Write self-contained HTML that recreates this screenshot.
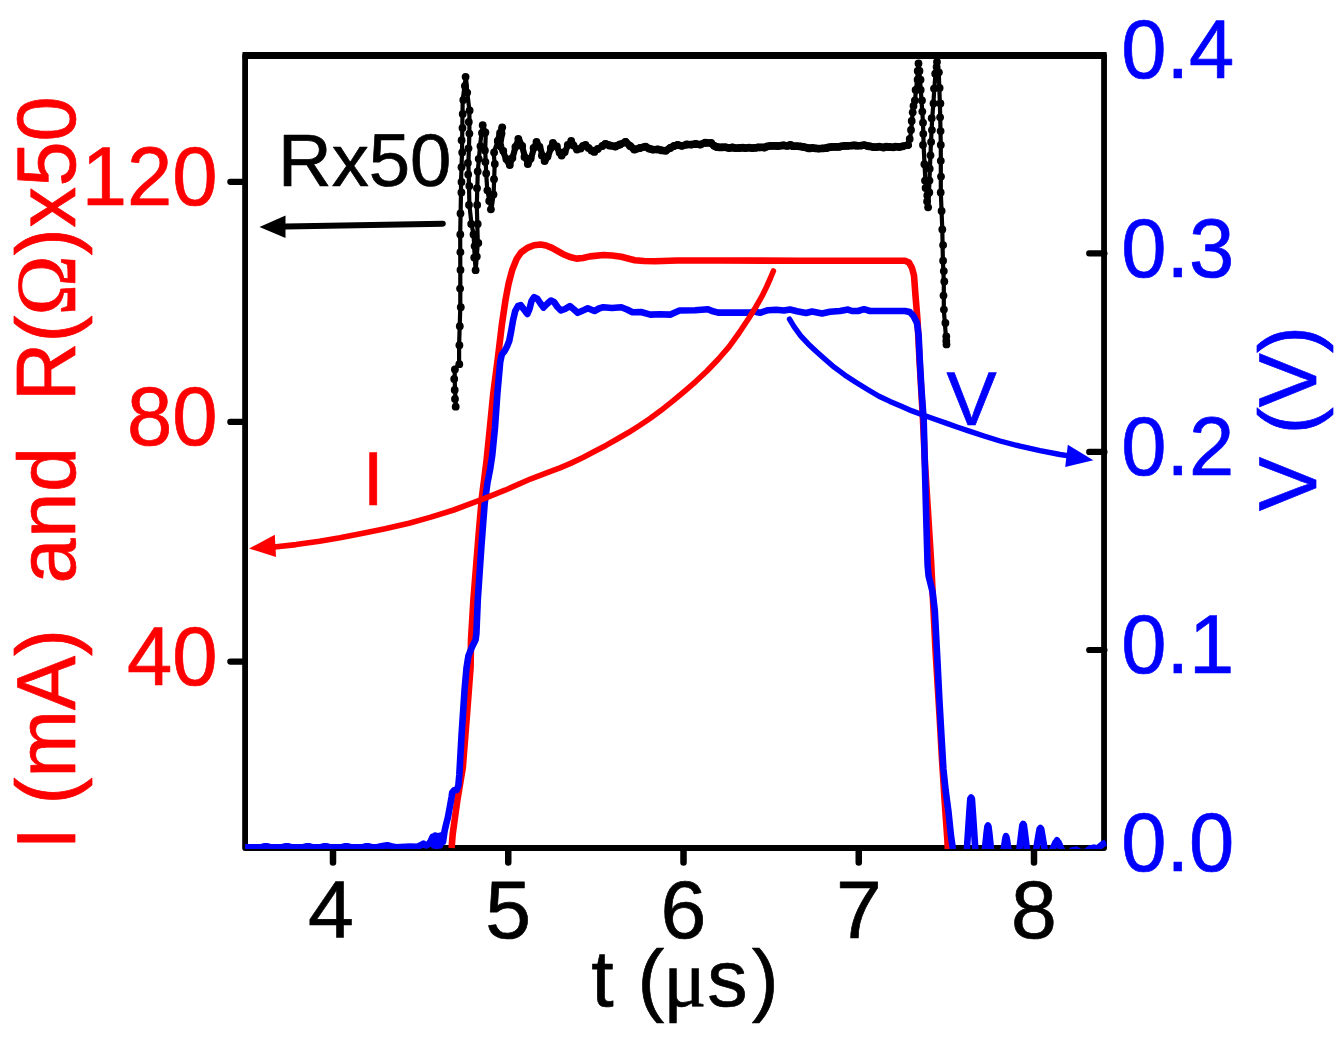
<!DOCTYPE html>
<html lang="en"><head><meta charset="utf-8"><title>Pulse I-V-R plot</title>
<style>html,body{margin:0;padding:0;background:#fff}svg{display:block}text{font-family:"Liberation Sans",sans-serif;stroke-width:0.7px;stroke-linejoin:round}.sy{font-family:"Liberation Serif",serif}</style></head><body>
<svg width="1344" height="1046" viewBox="0 0 1344 1046">
<rect x="0" y="0" width="1344" height="1046" fill="#fff"/>
<rect x="245.1" y="55.6" width="858.95" height="792.40" fill="none" stroke="#000000" stroke-width="5.8" stroke-linejoin="round"/>
<line x1="242.50" y1="55.55" x2="1106.65" y2="55.55" stroke="#000000" stroke-width="6.9"/>
<path d="M333.00 848.5 V862.6 M508.25 848.5 V862.6 M683.50 848.5 V862.6 M858.75 848.5 V862.6 M1034.00 848.5 V862.6" fill="none" stroke="#000000" stroke-width="6.5" stroke-linecap="round"/>
<path d="M244.70 181.8 H230.3 M244.70 421.9 H230.3 M244.70 661.6 H230.3 M1104.45 253.4 H1089.2 M1104.45 451.9 H1089.2 M1104.45 650.0 H1089.2" fill="none" stroke="#000000" stroke-width="6.2" stroke-linecap="round"/>
<defs><clipPath id="pc"><rect x="245.1" y="55.6" width="861.45" height="793.50"/></clipPath></defs>
<g clip-path="url(#pc)">
<polyline points="451.6,848.0 452.7,834.0 457.2,801.3 462.8,767.8 467.2,711.9 470.6,667.0 471.0,640.0 473.4,600.0 479.0,530.0 482.0,496.3 486.4,462.0 489.9,427.5 493.3,393.2 497.8,358.8 501.9,324.4 505.5,300.0 508.6,283.7 512.2,270.0 516.6,259.0 521.0,252.5 527.4,247.9 534.0,245.3 540.8,244.5 546.0,245.5 552.0,247.9 563.2,254.2 570.0,257.0 576.6,258.6 583.0,258.0 590.0,256.4 603.4,255.0 612.0,255.5 621.3,256.8 634.8,260.2 644.0,261.0 654.9,261.3 677.3,260.5 720.0,260.5 800.0,260.8 905.0,260.8 909.0,262.5 912.0,268.0 914.0,275.5 915.6,297.0 917.5,320.0 919.5,360.0 923.0,420.0 925.0,464.0 931.0,560.0 935.5,650.0 939.8,720.0 941.8,756.0 944.6,800.0 947.4,840.0 948.0,852.0" fill="none" stroke="#ff0000" stroke-width="6.6" stroke-linejoin="round" stroke-linecap="butt"/>
<polyline points="243.0,847.4 250.0,847.4 253.5,847.4 257.0,847.4 260.5,847.4 264.0,846.3 267.5,846.3 271.0,847.4 274.5,847.4 278.0,847.4 281.5,847.4 285.0,846.3 288.5,846.3 292.0,847.4 295.5,847.4 299.0,847.4 302.5,847.4 306.0,846.3 309.5,846.3 313.0,847.4 316.5,847.4 320.0,847.4 323.5,846.3 327.0,846.3 330.5,847.4 334.0,847.4 337.5,847.4 341.0,847.4 344.5,846.3 348.0,846.3 351.5,847.4 355.0,847.4 358.5,847.4 362.0,847.4 365.5,846.3 369.0,846.3 372.5,847.4 376.0,847.4 380.0,846.6 384.0,845.8 387.3,845.2 391.0,846.2 396.0,847.2 410.0,846.6 417.0,846.8 420.0,845.6 423.5,843.6 426.0,845.4 428.5,844.2 430.5,841.5 432.5,837.0 434.0,845.5 435.3,835.6 437.0,846.0 438.6,836.0 440.0,845.5 441.6,835.4 443.0,842.0 444.6,831.0 446.2,824.0 447.8,817.9 450.0,806.0 451.6,797.0 452.2,792.5 454.0,790.3 456.5,790.3 458.3,786.0 459.3,775.0 461.6,734.2 464.6,689.5 466.5,668.0 468.4,655.9 472.0,647.0 475.5,640.0 476.4,633.6 477.8,599.5 481.3,547.9 484.7,503.2 487.5,482.6 490.2,468.8 492.3,455.0 495.0,427.5 497.4,393.2 500.2,362.0 501.8,354.5 504.5,351.2 507.0,346.5 509.2,341.0 511.2,331.0 513.0,320.5 515.2,311.0 518.0,306.0 520.8,305.2 524.0,309.5 527.4,313.9 529.5,309.0 531.5,301.0 534.1,297.1 537.5,299.0 540.5,303.5 543.5,307.5 547.0,304.0 550.9,300.5 554.0,302.0 557.5,307.0 560.9,310.5 565.0,309.0 569.9,306.1 574.0,309.5 577.7,312.8 583.0,310.5 587.8,308.3 594.5,311.0 599.0,308.5 603.4,307.2 612.0,308.0 621.3,307.2 627.0,309.5 632.5,312.3 641.0,312.0 650.4,314.6 660.0,314.2 670.6,314.6 675.0,312.5 679.5,310.5 695.0,310.2 708.0,309.2 712.0,311.0 718.0,312.6 730.0,312.6 750.0,312.6 754.0,311.5 760.0,312.8 768.0,310.2 776.0,309.8 784.0,310.5 790.0,309.5 797.0,311.2 806.0,313.0 812.0,311.5 822.0,313.4 830.0,311.8 840.0,311.0 848.0,309.6 852.0,311.0 858.0,311.0 864.0,309.2 870.0,311.0 885.0,311.0 905.0,311.0 909.7,312.0 913.5,316.0 917.0,323.0 918.6,335.0 919.8,360.0 921.5,390.0 923.7,420.0 924.8,464.0 926.3,520.0 927.6,565.0 928.6,576.0 932.6,592.0 934.8,610.7 937.4,660.0 939.5,702.0 941.7,740.0 943.4,769.0 945.6,790.0 948.5,812.0 951.0,836.0 952.6,847.0 953.8,858.0 966.1,858.0 967.0,847.4 969.2,814.5 970.3,798.8 971.1,797.6 971.9,798.8 973.0,814.5 975.2,847.4 976.1,858.0 983.7,858.0 985.1,847.4 986.6,832.9 987.4,826.7 988.0,825.5 988.5,826.7 989.3,832.9 990.8,847.4 992.2,858.0 1002.1,858.0 1004.0,847.4 1005.1,840.0 1005.6,837.4 1006.0,836.2 1006.5,837.4 1007.0,840.0 1008.1,847.4 1010.0,858.0 1018.0,858.0 1019.6,847.4 1021.5,831.9 1022.4,825.1 1023.1,823.9 1023.9,825.1 1024.8,831.9 1026.7,847.4 1028.3,858.0 1034.4,858.0 1036.5,847.4 1038.6,834.6 1039.6,829.2 1040.4,828.0 1041.2,829.2 1042.2,834.6 1044.3,847.4 1046.4,858.0 1047.8,858.0 1053.3,847.4 1055.3,842.7 1056.3,841.5 1057.0,840.3 1057.7,841.5 1058.7,842.7 1060.7,847.4 1066.2,858.0 1068.0,858.0 1072.0,850.5 1076.0,849.6 1080.0,852.0 1086.0,852.0 1090.0,848.5 1094.0,847.6 1097.0,848.6 1100.0,846.4 1102.5,844.3 1106.0,842.5" fill="none" stroke="#0000ff" stroke-width="6.6" stroke-linejoin="round" stroke-linecap="butt"/>
<g fill="#000000" stroke="#000000">
<polyline points="455.8,406.7 455.5,399.0 455.0,390.0 454.7,379.0 454.7,369.5 459.1,364.2 459.1,345.2 460.3,307.2 460.3,270.0 460.2,234.5 461.0,192.4 461.0,182.0 462.0,152.5 462.3,128.0 462.7,100.0 464.5,86.0 465.9,76.8 467.3,92.6 469.4,110.5 469.4,133.6 468.4,163.0 469.0,186.0 469.4,205.0 471.5,224.0 473.6,234.5 474.7,257.6 475.7,270.2 477.8,243.0 476.8,205.0 477.8,171.4 480.0,146.2 481.5,133.0 483.1,125.2 485.8,132.5 485.2,150.4 486.2,173.5 487.3,190.3 489.5,201.0 491.5,209.3 493.6,194.5 494.7,164.0 493.6,152.5 497.8,141.0 500.0,133.0 502.0,127.3 502.0,133.6 499.9,146.2 503.0,151.0 506.0,159.0 509.4,165.0 512.5,158.0 515.5,147.0 518.8,138.8 522.0,146.0 525.0,157.0 528.3,164.0 531.0,158.5 534.0,148.0 536.7,142.0 540.0,147.0 542.5,155.5 545.0,161.0 548.0,156.5 551.0,148.0 553.5,143.0 556.5,146.5 559.5,152.5 562.0,155.6 565.0,152.0 568.0,145.0 571.4,141.0 574.0,145.5 576.6,149.6 580.0,148.5 583.0,146.0 585.5,145.0 589.0,148.0 592.0,150.5 594.5,151.9 598.0,149.0 602.0,146.0 605.7,144.0 610.0,145.5 615.0,146.5 620.0,144.5 625.8,141.8 630.0,146.0 634.8,149.6 640.0,148.0 645.0,146.6 649.0,148.6 652.7,149.6 658.0,149.4 662.0,150.4 666.0,150.7 670.0,148.0 674.0,146.0 677.3,145.0 682.0,145.8 687.0,144.5 691.0,144.6 695.2,144.0 700.0,144.6 705.0,142.7 710.8,143.0 714.0,145.8 717.0,147.0 720.0,147.4 723.0,147.3 726.2,147.3 729.4,148.0 732.6,147.5 735.8,148.1 739.0,148.0 742.2,147.7 745.4,148.1 748.6,147.7 751.8,148.1 755.0,147.8 758.2,147.4 761.4,147.4 764.6,147.5 767.8,146.3 771.0,145.9 774.2,145.8 777.4,146.0 780.6,145.6 783.8,145.3 787.0,145.9 790.2,144.9 793.4,146.2 796.6,146.1 799.8,146.4 803.0,146.9 806.2,147.6 809.4,148.4 812.6,147.9 815.8,148.4 819.0,148.6 822.2,148.4 825.4,148.2 828.6,147.4 831.8,147.0 835.0,146.8 838.2,146.9 841.4,146.3 844.6,145.8 847.8,145.9 851.0,145.6 854.2,145.3 857.4,145.7 860.6,145.6 863.8,145.1 867.0,145.8 870.2,146.4 873.4,147.1 876.6,147.1 879.8,146.7 883.0,147.5 886.2,146.7 889.4,147.0 892.6,147.3 895.8,146.6 899.0,147.0 902.2,146.3 908.2,145.0 910.0,139.0 911.2,130.0 912.0,121.0 912.6,112.3 913.8,106.0 915.0,100.4 916.0,90.0 917.1,79.7 917.9,71.0 918.6,63.4 919.4,71.0 920.0,79.7 920.8,90.0 921.5,100.4 923.0,122.7 923.6,145.0 924.5,164.2 925.4,180.6 926.2,188.0 926.9,195.4 927.5,201.5 928.1,207.3 929.0,192.4 929.9,168.7 931.0,142.0 932.2,118.2 933.4,103.4 934.3,88.6 935.5,73.7 936.3,67.0 937.0,61.9 938.8,72.3 939.3,88.0 939.9,103.4 940.8,145.0 940.8,192.4 942.3,229.5 942.9,260.7 943.8,281.5 943.8,309.6 945.9,336.4 946.7,341.0 947.0,344.4" fill="none" stroke-width="4.2" stroke-linejoin="round" stroke-linecap="round"/>
<polyline points="497.8,141.0 500.0,133.0 502.0,127.3 502.0,133.6 499.9,146.2 503.0,151.0 506.0,159.0 509.4,165.0 512.5,158.0 515.5,147.0 518.8,138.8 522.0,146.0 525.0,157.0 528.3,164.0 531.0,158.5 534.0,148.0 536.7,142.0 540.0,147.0 542.5,155.5 545.0,161.0 548.0,156.5 551.0,148.0 553.5,143.0 556.5,146.5 559.5,152.5 562.0,155.6 565.0,152.0 568.0,145.0 571.4,141.0 574.0,145.5 576.6,149.6 580.0,148.5 583.0,146.0 585.5,145.0 589.0,148.0 592.0,150.5 594.5,151.9 598.0,149.0 602.0,146.0 605.7,144.0 610.0,145.5 615.0,146.5 620.0,144.5 625.8,141.8 630.0,146.0 634.8,149.6 640.0,148.0 645.0,146.6 649.0,148.6 652.7,149.6 658.0,149.4 662.0,150.4 666.0,150.7 670.0,148.0 674.0,146.0 677.3,145.0 682.0,145.8 687.0,144.5 691.0,144.6 695.2,144.0 700.0,144.6 705.0,142.7 710.8,143.0 714.0,145.8 717.0,147.0 720.0,147.4" fill="none" stroke-width="6.2" stroke-linejoin="round" stroke-linecap="round"/>
<polyline points="606.0,144.0 610.0,145.5 615.0,146.5 620.0,144.5 625.8,141.8 630.0,146.0 634.8,149.6 640.0,148.0 645.0,146.6 649.0,148.6 652.7,149.6 658.0,149.4 662.0,150.4 666.0,150.7 670.0,148.0 674.0,146.0 677.3,145.0 682.0,145.8 687.0,144.5 691.0,144.6 695.2,144.0 700.0,144.6 705.0,142.7 710.8,143.0 714.0,145.8 717.0,147.0 720.0,147.4 723.0,147.3 726.2,147.3 729.4,148.0 732.6,147.5 735.8,148.1 739.0,148.0 742.2,147.7 745.4,148.1 748.6,147.7 751.8,148.1 755.0,147.8 758.2,147.4 761.4,147.4 764.6,147.5 767.8,146.3 771.0,145.9 774.2,145.8 777.4,146.0 780.6,145.6 783.8,145.3 787.0,145.9 790.2,144.9 793.4,146.2 796.6,146.1 799.8,146.4 803.0,146.9 806.2,147.6 809.4,148.4 812.6,147.9 815.8,148.4 819.0,148.6 822.2,148.4 825.4,148.2 828.6,147.4 831.8,147.0 835.0,146.8 838.2,146.9 841.4,146.3 844.6,145.8 847.8,145.9 851.0,145.6 854.2,145.3 857.4,145.7 860.6,145.6 863.8,145.1 867.0,145.8 870.2,146.4 873.4,147.1 876.6,147.1 879.8,146.7 883.0,147.5 886.2,146.7 889.4,147.0 892.6,147.3 895.8,146.6 899.0,147.0 902.2,146.3 908.2,145.0" fill="none" stroke-width="7.4" stroke-linejoin="round" stroke-linecap="round"/>
<g stroke="none"><circle cx="459.3" cy="364.2" r="3.9"/><circle cx="459.4" cy="345.2" r="3.9"/><circle cx="459.8" cy="326.2" r="3.9"/><circle cx="460.8" cy="307.2" r="3.9"/><circle cx="460.1" cy="288.6" r="3.9"/><circle cx="460.5" cy="270.0" r="3.9"/><circle cx="460.4" cy="252.2" r="3.9"/><circle cx="460.3" cy="234.5" r="3.9"/><circle cx="460.5" cy="213.4" r="3.9"/><circle cx="461.4" cy="192.4" r="3.9"/><circle cx="461.5" cy="182.0" r="3.9"/><circle cx="461.5" cy="167.2" r="3.9"/><circle cx="462.2" cy="152.5" r="3.9"/><circle cx="461.6" cy="140.2" r="3.9"/><circle cx="462.5" cy="128.0" r="3.9"/><circle cx="462.7" cy="114.0" r="3.9"/><circle cx="463.3" cy="100.0" r="3.9"/><circle cx="464.9" cy="86.0" r="3.9"/><circle cx="465.6" cy="76.8" r="3.9"/><circle cx="467.2" cy="92.6" r="3.9"/><circle cx="469.6" cy="110.5" r="3.9"/><circle cx="468.8" cy="122.0" r="3.9"/><circle cx="469.4" cy="133.6" r="3.9"/><circle cx="468.5" cy="148.3" r="3.9"/><circle cx="467.9" cy="163.0" r="3.9"/><circle cx="468.2" cy="174.5" r="3.9"/><circle cx="469.3" cy="186.0" r="3.9"/><circle cx="469.0" cy="205.0" r="3.9"/><circle cx="471.2" cy="224.0" r="3.9"/><circle cx="473.5" cy="234.5" r="3.9"/><circle cx="474.6" cy="246.1" r="3.9"/><circle cx="474.2" cy="257.6" r="3.9"/><circle cx="475.6" cy="270.2" r="3.9"/><circle cx="476.8" cy="256.6" r="3.9"/><circle cx="478.3" cy="243.0" r="3.9"/><circle cx="477.7" cy="224.0" r="3.9"/><circle cx="477.2" cy="205.0" r="3.9"/><circle cx="477.0" cy="188.2" r="3.9"/><circle cx="477.7" cy="171.4" r="3.9"/><circle cx="478.7" cy="158.8" r="3.9"/><circle cx="480.5" cy="146.2" r="3.9"/><circle cx="482.0" cy="133.0" r="3.9"/><circle cx="482.7" cy="125.2" r="3.9"/><circle cx="485.4" cy="132.5" r="3.9"/><circle cx="484.9" cy="150.4" r="3.9"/><circle cx="485.4" cy="161.9" r="3.9"/><circle cx="486.2" cy="173.5" r="3.9"/><circle cx="487.4" cy="190.3" r="3.9"/><circle cx="489.2" cy="201.0" r="3.9"/><circle cx="490.9" cy="209.3" r="3.9"/><circle cx="493.5" cy="194.5" r="3.9"/><circle cx="494.0" cy="179.2" r="3.9"/><circle cx="494.8" cy="164.0" r="3.9"/><circle cx="494.1" cy="152.5" r="3.9"/><circle cx="498.0" cy="141.0" r="3.9"/><circle cx="497.8" cy="141.0" r="3.9"/><circle cx="500.1" cy="133.0" r="3.9"/><circle cx="502.2" cy="127.3" r="3.9"/><circle cx="501.5" cy="133.6" r="3.9"/><circle cx="500.4" cy="146.2" r="3.9"/><circle cx="503.3" cy="151.0" r="3.9"/><circle cx="506.4" cy="159.0" r="3.9"/><circle cx="509.8" cy="165.0" r="3.9"/><circle cx="512.4" cy="158.0" r="3.9"/><circle cx="515.4" cy="147.0" r="3.9"/><circle cx="518.3" cy="138.8" r="3.9"/><circle cx="522.2" cy="146.0" r="3.9"/><circle cx="524.5" cy="157.0" r="3.9"/><circle cx="527.8" cy="164.0" r="3.9"/><circle cx="530.7" cy="158.5" r="3.9"/><circle cx="533.6" cy="148.0" r="3.9"/><circle cx="536.5" cy="142.0" r="3.9"/><circle cx="539.5" cy="147.0" r="3.9"/><circle cx="541.9" cy="155.5" r="3.9"/><circle cx="544.6" cy="161.0" r="3.9"/><circle cx="547.5" cy="156.5" r="3.9"/><circle cx="550.8" cy="148.0" r="3.9"/><circle cx="552.9" cy="143.0" r="3.9"/><circle cx="556.9" cy="146.5" r="3.9"/><circle cx="559.6" cy="152.5" r="3.9"/><circle cx="561.6" cy="155.6" r="3.9"/><circle cx="564.7" cy="152.0" r="3.9"/><circle cx="567.8" cy="145.0" r="3.9"/><circle cx="571.2" cy="141.0" r="3.9"/><circle cx="573.5" cy="145.5" r="3.9"/><circle cx="577.0" cy="149.6" r="3.9"/><circle cx="580.6" cy="148.5" r="3.9"/><circle cx="583.0" cy="146.0" r="3.9"/><circle cx="585.5" cy="145.0" r="3.9"/><circle cx="588.5" cy="148.0" r="3.9"/><circle cx="591.5" cy="150.5" r="3.9"/><circle cx="594.3" cy="151.9" r="3.9"/><circle cx="597.7" cy="149.0" r="3.9"/><circle cx="602.4" cy="146.0" r="3.9"/><circle cx="605.3" cy="144.0" r="3.9"/><circle cx="609.4" cy="145.5" r="3.9"/><circle cx="615.5" cy="146.5" r="3.9"/><circle cx="620.0" cy="144.5" r="3.9"/><circle cx="625.4" cy="141.8" r="3.9"/><circle cx="630.1" cy="146.0" r="3.9"/><circle cx="634.2" cy="149.6" r="3.9"/><circle cx="640.0" cy="148.0" r="3.9"/><circle cx="645.6" cy="146.6" r="3.9"/><circle cx="649.4" cy="148.6" r="3.9"/><circle cx="652.9" cy="149.6" r="3.9"/><circle cx="657.7" cy="149.4" r="3.9"/><circle cx="661.8" cy="150.4" r="3.9"/><circle cx="665.6" cy="150.7" r="3.9"/><circle cx="670.3" cy="148.0" r="3.9"/><circle cx="674.0" cy="146.0" r="3.9"/><circle cx="677.6" cy="145.0" r="3.9"/><circle cx="681.8" cy="145.8" r="3.9"/><circle cx="686.7" cy="144.5" r="3.9"/><circle cx="691.4" cy="144.6" r="3.9"/><circle cx="695.8" cy="144.0" r="3.9"/><circle cx="700.4" cy="144.6" r="3.9"/><circle cx="705.4" cy="142.7" r="3.9"/><circle cx="711.2" cy="143.0" r="3.9"/><circle cx="714.3" cy="145.8" r="3.9"/><circle cx="716.7" cy="147.0" r="3.9"/><circle cx="720.0" cy="147.4" r="3.9"/><circle cx="722.8" cy="147.3" r="3.9"/><circle cx="725.6" cy="147.3" r="3.9"/><circle cx="728.8" cy="148.0" r="3.9"/><circle cx="732.3" cy="147.5" r="3.9"/><circle cx="735.5" cy="148.1" r="3.9"/><circle cx="739.2" cy="148.0" r="3.9"/><circle cx="742.7" cy="147.7" r="3.9"/><circle cx="745.3" cy="148.1" r="3.9"/><circle cx="749.1" cy="147.7" r="3.9"/><circle cx="752.4" cy="148.1" r="3.9"/><circle cx="755.5" cy="147.8" r="3.9"/><circle cx="758.0" cy="147.4" r="3.9"/><circle cx="761.1" cy="147.4" r="3.9"/><circle cx="764.3" cy="147.5" r="3.9"/><circle cx="767.4" cy="146.3" r="3.9"/><circle cx="770.6" cy="145.9" r="3.9"/><circle cx="774.3" cy="145.8" r="3.9"/><circle cx="777.9" cy="146.0" r="3.9"/><circle cx="781.0" cy="145.6" r="3.9"/><circle cx="783.8" cy="145.3" r="3.9"/><circle cx="787.2" cy="145.9" r="3.9"/><circle cx="790.6" cy="144.9" r="3.9"/><circle cx="792.9" cy="146.2" r="3.9"/><circle cx="796.8" cy="146.1" r="3.9"/><circle cx="800.3" cy="146.4" r="3.9"/><circle cx="803.3" cy="146.9" r="3.9"/><circle cx="806.5" cy="147.6" r="3.9"/><circle cx="809.4" cy="148.4" r="3.9"/><circle cx="812.2" cy="147.9" r="3.9"/><circle cx="816.1" cy="148.4" r="3.9"/><circle cx="818.8" cy="148.6" r="3.9"/><circle cx="822.6" cy="148.4" r="3.9"/><circle cx="826.0" cy="148.2" r="3.9"/><circle cx="828.5" cy="147.4" r="3.9"/><circle cx="831.7" cy="147.0" r="3.9"/><circle cx="835.5" cy="146.8" r="3.9"/><circle cx="838.5" cy="146.9" r="3.9"/><circle cx="841.0" cy="146.3" r="3.9"/><circle cx="844.2" cy="145.8" r="3.9"/><circle cx="847.4" cy="145.9" r="3.9"/><circle cx="851.5" cy="145.6" r="3.9"/><circle cx="854.6" cy="145.3" r="3.9"/><circle cx="857.0" cy="145.7" r="3.9"/><circle cx="861.0" cy="145.6" r="3.9"/><circle cx="864.4" cy="145.1" r="3.9"/><circle cx="867.2" cy="145.8" r="3.9"/><circle cx="870.0" cy="146.4" r="3.9"/><circle cx="873.5" cy="147.1" r="3.9"/><circle cx="876.2" cy="147.1" r="3.9"/><circle cx="879.2" cy="146.7" r="3.9"/><circle cx="883.6" cy="147.5" r="3.9"/><circle cx="886.4" cy="146.7" r="3.9"/><circle cx="889.4" cy="147.0" r="3.9"/><circle cx="893.1" cy="147.3" r="3.9"/><circle cx="895.7" cy="146.6" r="3.9"/><circle cx="899.4" cy="147.0" r="3.9"/><circle cx="902.6" cy="146.3" r="3.9"/><circle cx="907.9" cy="145.0" r="3.9"/><circle cx="909.7" cy="139.0" r="3.9"/><circle cx="911.0" cy="130.0" r="3.9"/><circle cx="911.7" cy="121.0" r="3.9"/><circle cx="912.7" cy="112.3" r="3.9"/><circle cx="913.5" cy="106.0" r="3.9"/><circle cx="914.9" cy="100.4" r="3.9"/><circle cx="915.6" cy="90.0" r="3.9"/><circle cx="917.6" cy="79.7" r="3.9"/><circle cx="917.7" cy="71.0" r="3.9"/><circle cx="918.5" cy="63.4" r="3.9"/><circle cx="919.5" cy="71.0" r="3.9"/><circle cx="920.5" cy="79.7" r="3.9"/><circle cx="920.7" cy="90.0" r="3.9"/><circle cx="922.0" cy="100.4" r="3.9"/><circle cx="922.3" cy="111.6" r="3.9"/><circle cx="923.0" cy="122.7" r="3.9"/><circle cx="923.3" cy="133.8" r="3.9"/><circle cx="923.0" cy="145.0" r="3.9"/><circle cx="924.4" cy="164.2" r="3.9"/><circle cx="925.0" cy="180.6" r="3.9"/><circle cx="925.6" cy="188.0" r="3.9"/><circle cx="927.3" cy="195.4" r="3.9"/><circle cx="927.1" cy="201.5" r="3.9"/><circle cx="928.1" cy="207.3" r="3.9"/><circle cx="929.3" cy="192.4" r="3.9"/><circle cx="929.5" cy="180.6" r="3.9"/><circle cx="929.7" cy="168.7" r="3.9"/><circle cx="930.5" cy="155.3" r="3.9"/><circle cx="931.1" cy="142.0" r="3.9"/><circle cx="931.9" cy="130.1" r="3.9"/><circle cx="931.7" cy="118.2" r="3.9"/><circle cx="933.5" cy="103.4" r="3.9"/><circle cx="934.0" cy="88.6" r="3.9"/><circle cx="935.2" cy="73.7" r="3.9"/><circle cx="936.6" cy="67.0" r="3.9"/><circle cx="937.0" cy="61.9" r="3.9"/><circle cx="938.9" cy="72.3" r="3.9"/><circle cx="939.6" cy="88.0" r="3.9"/><circle cx="940.4" cy="103.4" r="3.9"/><circle cx="940.1" cy="117.3" r="3.9"/><circle cx="940.6" cy="131.1" r="3.9"/><circle cx="940.8" cy="145.0" r="3.9"/><circle cx="940.8" cy="160.8" r="3.9"/><circle cx="941.0" cy="176.6" r="3.9"/><circle cx="940.7" cy="192.4" r="3.9"/><circle cx="941.6" cy="210.9" r="3.9"/><circle cx="942.3" cy="229.5" r="3.9"/><circle cx="943.1" cy="245.1" r="3.9"/><circle cx="943.1" cy="260.7" r="3.9"/><circle cx="943.8" cy="271.1" r="3.9"/><circle cx="944.3" cy="281.5" r="3.9"/><circle cx="943.5" cy="295.6" r="3.9"/><circle cx="943.9" cy="309.6" r="3.9"/><circle cx="945.4" cy="323.0" r="3.9"/><circle cx="946.3" cy="336.4" r="3.9"/><circle cx="946.3" cy="341.0" r="3.9"/><circle cx="946.5" cy="344.4" r="3.9"/><circle cx="455.7" cy="406.7" r="3.9"/><circle cx="455.0" cy="399.0" r="3.9"/><circle cx="454.7" cy="390.0" r="3.9"/><circle cx="454.2" cy="379.0" r="3.9"/><circle cx="454.9" cy="369.5" r="3.9"/></g>
</g>
</g>
<polyline points="773.4,271.0 770.5,278.0 766.5,287.0 762.0,296.2 755.5,307.5 748.8,318.2 739.0,333.0 729.0,346.8 718.0,359.5 707.0,371.0 696.0,381.3 685.0,390.8 673.0,400.9 660.8,410.6 650.0,418.5 638.8,426.0 628.0,432.8 616.8,439.2 606.0,445.4 594.8,451.3 583.0,457.5 570.6,463.4 560.0,467.8 548.6,472.2 531.0,478.8 505.0,490.2 482.8,499.2 453.7,510.0 430.0,517.4 409.0,523.2 385.0,528.8 364.2,533.0 340.0,537.8 319.5,541.3 296.0,544.6 272.0,547.2" fill="none" stroke="#ff0000" stroke-width="5.6" stroke-linejoin="round" stroke-linecap="round"/>
<polygon points="249.1,548.5 274.8,534.8 276,557" fill="#ff0000"/>
<polyline points="789.5,319.1 794.0,326.7 800.7,335.8 808.0,343.7 816.3,351.5 825.0,359.2 834.2,367.2 845.0,375.2 856.6,382.8 868.0,389.7 879.0,396.2 890.0,401.4 901.3,406.3 912.0,410.9 923.7,415.3 935.0,419.3 946.1,423.1 957.0,427.0 968.5,430.9 984.0,436.0 1000.0,441.0 1020.0,446.2 1040.0,450.7 1060.0,454.5 1074.0,456.7" fill="none" stroke="#0000ff" stroke-width="5.4" stroke-linejoin="round" stroke-linecap="round"/>
<polygon points="1093.3,460.3 1067.8,444.8 1065.2,467" fill="#0000ff"/>
<line x1="286" y1="226.6" x2="442.8" y2="223.65" stroke="#000000" stroke-width="6" stroke-linecap="round"/>
<polygon points="259.5,227 285.5,215.5 285.5,238" fill="#000000"/>
<text x="331.0" y="938.4" font-size="82.4" text-anchor="middle" fill="#000000" stroke="#000000">4</text>
<text x="508.2" y="938.4" font-size="82.4" text-anchor="middle" fill="#000000" stroke="#000000">5</text>
<text x="683.5" y="938.4" font-size="82.4" text-anchor="middle" fill="#000000" stroke="#000000">6</text>
<text x="858.8" y="938.4" font-size="82.4" text-anchor="middle" fill="#000000" stroke="#000000">7</text>
<text x="1034.0" y="938.4" font-size="82.4" text-anchor="middle" fill="#000000" stroke="#000000">8</text>
<text x="591.2" y="1006.0" font-size="80.6" fill="#000000" stroke="#000000" xml:space="preserve">t <tspan dx="1.4">(</tspan><tspan class="sy" dx="-0.9">μ</tspan><tspan dx="0.6">s</tspan><tspan dx="4.4">)</tspan></text>
<text transform="translate(217.6 204.9) scale(0.972 1)" font-size="83.8" text-anchor="end" fill="#ff0000" stroke="#ff0000">120</text>
<text transform="translate(217.6 445.0) scale(0.972 1)" font-size="83.8" text-anchor="end" fill="#ff0000" stroke="#ff0000">80</text>
<text transform="translate(217.6 684.7) scale(0.972 1)" font-size="83.8" text-anchor="end" fill="#ff0000" stroke="#ff0000">40</text>
<text transform="translate(1121.3 78.3) scale(0.966 1)" font-size="84.2" fill="#0000ff" stroke="#0000ff">0.4</text>
<text transform="translate(1121.3 276.6) scale(0.966 1)" font-size="84.2" fill="#0000ff" stroke="#0000ff">0.3</text>
<text transform="translate(1121.3 475.1) scale(0.966 1)" font-size="84.2" fill="#0000ff" stroke="#0000ff">0.2</text>
<text transform="translate(1121.3 673.3) scale(0.966 1)" font-size="84.2" fill="#0000ff" stroke="#0000ff">0.1</text>
<text transform="translate(1121.3 871.3) scale(0.966 1)" font-size="84.2" fill="#0000ff" stroke="#0000ff">0.0</text>
<g transform="translate(75.2 0) rotate(-90)" fill="#ff0000" stroke="#ff0000" font-size="81">
<text transform="scale(1 1.035)" x="-849.5" y="0" xml:space="preserve">I (mA)</text>
<text x="-583.6" y="0" letter-spacing="0.7">and</text>
<text transform="scale(1 1.035)" x="-401" y="0">R(<tspan class="sy">Ω</tspan>)<tspan dx="0.8">x</tspan><tspan dx="0.6">5</tspan>0</text>
</g>
<g transform="translate(1315.6 0) rotate(-90)" fill="#0000ff" stroke="#0000ff" font-size="81.2">
<text x="-511" y="0" xml:space="preserve">V (V)</text>
</g>
<text x="278" y="186.2" font-size="74.3" fill="#000000" stroke="#000000">Rx50</text>
<text x="362.7" y="504.8" font-size="75.5" fill="#ff0000" stroke="#ff0000">I</text>
<text x="946.6" y="425.2" font-size="75.2" fill="#0000ff" stroke="#0000ff">V</text>
</svg></body></html>
